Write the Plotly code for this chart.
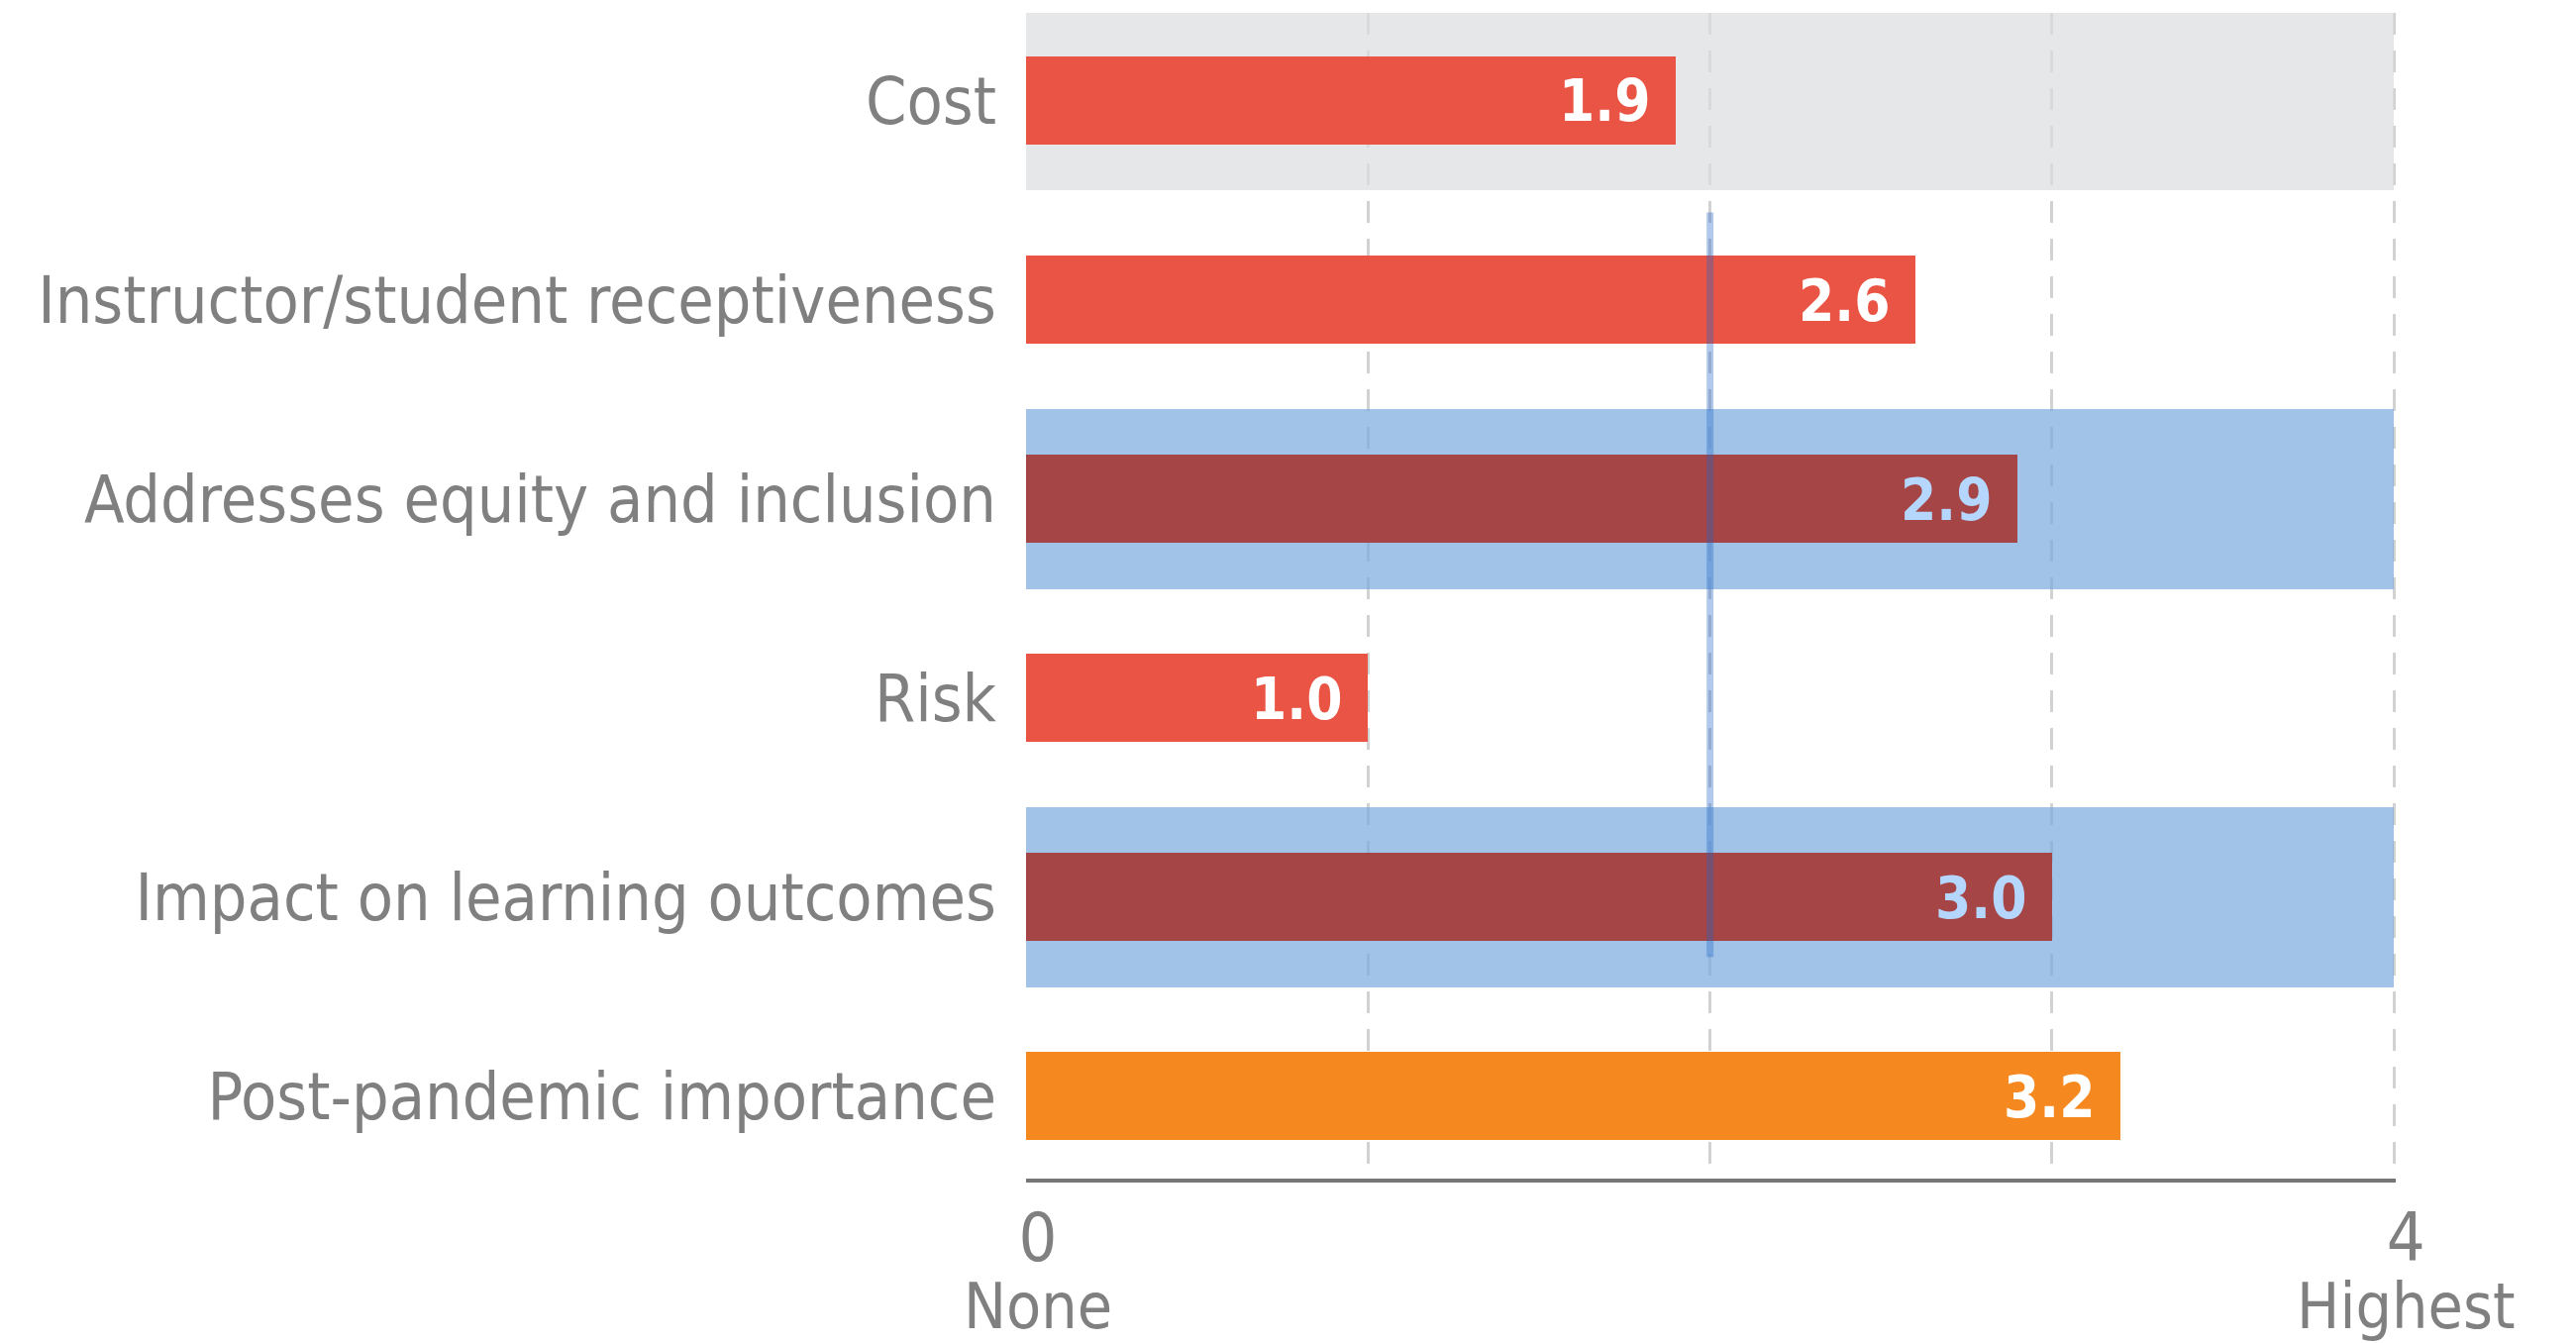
import plotly.graph_objects as go

# ---------------- data ----------------
categories = [
    "Cost",
    "Instructor/student receptiveness",
    "Addresses equity and inclusion",
    "Risk",
    "Impact on learning outcomes",
    "Post-pandemic importance",
]
values = [1.9, 2.6, 2.9, 1.0, 3.0, 3.2]
bar_colors = ["#EA5444", "#EA5444", "#A54545", "#EA5444", "#A54545", "#F5891F"]
value_label_colors = ["#FFFFFF", "#FFFFFF", "#B5D7FD", "#FFFFFF", "#B5D7FD", "#FFFFFF"]

# highlight bands behind some rows (full scale width)
band_categories = ["Cost", "Addresses equity and inclusion", "Impact on learning outcomes"]
band_values = [4, 4, 4]
band_colors = ["rgba(219,221,224,0.7)", "rgba(121,169,222,0.7)", "rgba(121,169,222,0.7)"]

scale_max = 4
grid_vals = [0, 1, 2, 3, 4]
scale_end_vals = [0, 4]
scale_end_names = ["None", "Highest"]
reference_value = 2
reference_span = [0.562, 4.30]  # row-index span of the reference line

FONT = "Noto Sans ExtraCondensed, Noto Sans Condensed, DejaVu Sans Condensed, sans-serif"
GREY = "#808080"

# tick labels: number on first line, scale name on second
tick_text = []
for v in grid_vals:
    if v in scale_end_vals:
        name = scale_end_names[scale_end_vals.index(v)]
        tick_text.append(
            f"<span style='font-size:68px'>{v}</span><br>"
            f"<span style='font-size:64px'>{name}</span>"
        )
    else:
        tick_text.append("")

fig = go.Figure()

fig.add_trace(go.Bar(
    x=band_values, y=band_categories, orientation="h",
    marker=dict(color=band_colors, line=dict(width=0)),
    width=0.905, hoverinfo="skip", showlegend=False,
))

fig.add_trace(go.Bar(
    x=values, y=categories, orientation="h",
    marker=dict(color=bar_colors, line=dict(width=0)),
    width=0.443, hoverinfo="skip", showlegend=False,
))

for cat, v, c in zip(categories, values, value_label_colors):
    fig.add_annotation(
        x=v, y=cat, xref="x", yref="y", text=f"<b>{v:.1f}</b>",
        showarrow=False, xanchor="right", yanchor="middle", xshift=-24, yshift=-1,
        font=dict(family=FONT, size=58, color=c),
    )

fig.add_shape(
    type="line", xref="x", yref="y",
    x0=reference_value, x1=reference_value,
    y0=reference_span[0], y1=reference_span[1],
    line=dict(color="rgba(30,100,200,0.35)", width=7), layer="above",
)

fig.update_layout(
    width=2601, height=1356,
    margin=dict(l=1036, r=182, t=13, b=166, pad=0),
    paper_bgcolor="white", plot_bgcolor="white",
    barmode="overlay", bargap=0,
    font=dict(family=FONT, color=GREY, size=66),
    showlegend=False,
)

fig.update_xaxes(
    range=[0, scale_max + 0.005], tickvals=grid_vals, ticktext=tick_text,
    showgrid=True, gridcolor="#D2D2D2", gridwidth=3, griddash="22px,16px",
    zeroline=True, zerolinecolor="rgba(0,0,0,0)", zerolinewidth=1,
    showline=True, linecolor="#777777", linewidth=4,
    ticks="", ticklabelstandoff=17, ticklabelshift=12,
    tickfont=dict(family=FONT, size=52, color=GREY),
    automargin=False, fixedrange=True,
)

fig.update_yaxes(
    type="category", categoryorder="array", categoryarray=categories,
    range=[5.413, -0.44],
    showgrid=False, zeroline=False, showline=False, ticks="",
    ticklabelstandoff=29,
    tickfont=dict(family=FONT, size=66, color=GREY),
    automargin=False, fixedrange=True,
)

fig.write_html("out.html", config={"displayModeBar": False},
               post_script="document.body.style.margin='0';")
